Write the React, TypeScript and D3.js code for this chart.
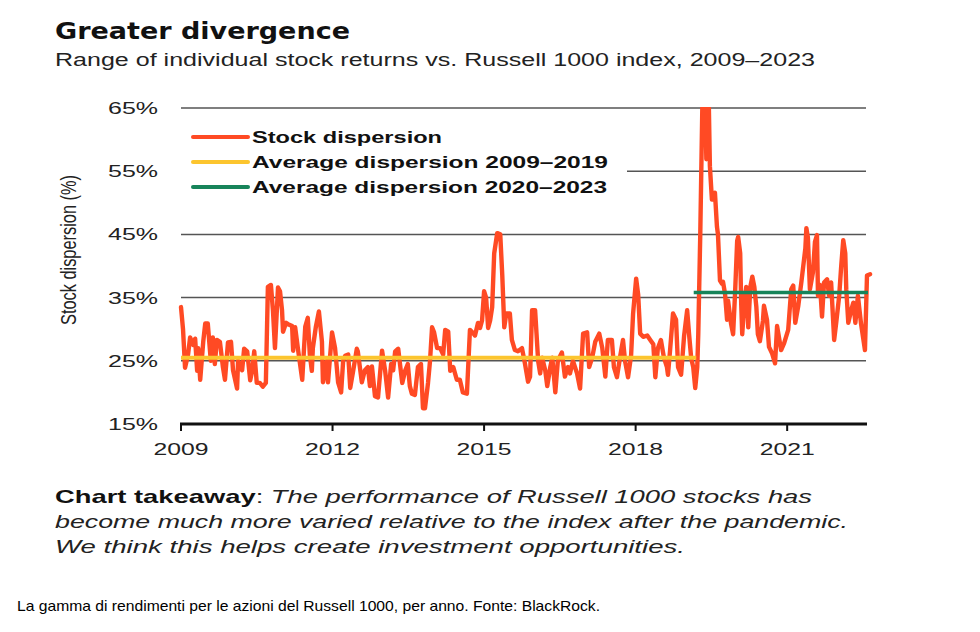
import * as d3 from 'd3';

// decimal year, stock dispersion (%)
const DISPERSION: [number, number][] = [
  [2009.00, 33.5], [2009.04, 30], [2009.08, 23.9], [2009.14, 26], [2009.18, 28.7], [2009.24, 27.5],
  [2009.28, 28.5], [2009.32, 23.4], [2009.34, 27], [2009.38, 22], [2009.44, 28], [2009.48, 30.9],
  [2009.53, 30.9], [2009.59, 25], [2009.63, 28.7], [2009.67, 24.5], [2009.71, 28.3], [2009.77, 28],
  [2009.83, 24], [2009.87, 22], [2009.93, 27.9], [2009.99, 28],
  [2010.03, 23.5], [2010.11, 20.6], [2010.13, 25], [2010.21, 23.5], [2010.25, 26.9], [2010.31, 26.5],
  [2010.37, 21.9], [2010.41, 23.5], [2010.45, 26.5], [2010.50, 21.5], [2010.56, 21.5], [2010.62, 20.9],
  [2010.68, 21.5], [2010.72, 36.7], [2010.78, 37], [2010.82, 33], [2010.86, 27], [2010.92, 36.6],
  [2010.96, 36],
  [2011.00, 33], [2011.02, 29.6], [2011.08, 31], [2011.12, 30.8], [2011.20, 30.5], [2011.22, 26.6],
  [2011.26, 30.3], [2011.32, 26.6], [2011.40, 22], [2011.46, 30.4], [2011.51, 31.8], [2011.55, 26],
  [2011.59, 23.4], [2011.61, 27], [2011.67, 30.4], [2011.73, 32.8], [2011.79, 28], [2011.81, 21.6],
  [2011.89, 25], [2011.91, 21.6], [2011.99, 29.5],
  [2012.05, 27], [2012.11, 21.6], [2012.17, 20], [2012.21, 25], [2012.25, 25.8], [2012.31, 26],
  [2012.35, 20.7], [2012.41, 23.5], [2012.48, 26.9], [2012.50, 26.5], [2012.58, 21.6], [2012.64, 23.5],
  [2012.70, 24], [2012.74, 21], [2012.78, 24.1], [2012.84, 19.4], [2012.90, 19.2], [2012.98, 26.6],
  [2013.04, 23.5], [2013.10, 19.2], [2013.16, 24.5], [2013.20, 23.5], [2013.24, 26.5], [2013.30, 26.9],
  [2013.36, 22.8], [2013.38, 21.5], [2013.44, 23.5], [2013.49, 24.5], [2013.53, 21], [2013.57, 19.8],
  [2013.63, 19.6], [2013.69, 24], [2013.75, 24.5], [2013.79, 17.5], [2013.83, 17.5], [2013.89, 21.5],
  [2013.93, 25], [2013.97, 30.3],
  [2014.01, 29.5], [2014.07, 27], [2014.13, 27], [2014.19, 26], [2014.23, 29.9], [2014.29, 29.6],
  [2014.33, 23.4], [2014.39, 24], [2014.46, 22], [2014.52, 22], [2014.58, 20], [2014.66, 19.8],
  [2014.72, 29.9], [2014.78, 29.4], [2014.82, 29], [2014.88, 31], [2014.92, 30.2], [2014.96, 31.4],
  [2015.00, 36], [2015.04, 35], [2015.08, 30.2], [2015.12, 31.4], [2015.16, 33.5], [2015.20, 42],
  [2015.26, 45.2], [2015.32, 45], [2015.36, 38.5], [2015.40, 30.3], [2015.44, 32.5], [2015.51, 32.5],
  [2015.55, 28.3], [2015.61, 26.7], [2015.67, 26.5], [2015.75, 27], [2015.81, 24.5], [2015.87, 21.7],
  [2015.91, 22.5], [2015.95, 33],
  [2016.01, 33], [2016.07, 25], [2016.11, 23], [2016.15, 25.5], [2016.21, 23.5], [2016.25, 21],
  [2016.31, 24], [2016.35, 25.5], [2016.41, 20], [2016.46, 25], [2016.54, 26.3], [2016.60, 22.5],
  [2016.66, 24], [2016.70, 23], [2016.76, 25], [2016.84, 23], [2016.90, 20.6], [2016.96, 29.3],
  [2017.04, 29.5], [2017.08, 24], [2017.14, 25.5], [2017.20, 28], [2017.28, 29.3], [2017.34, 27],
  [2017.40, 22.5], [2017.45, 28.3], [2017.53, 28.3], [2017.57, 24], [2017.63, 22.4], [2017.69, 25.5],
  [2017.75, 28.3], [2017.79, 25], [2017.85, 22.4], [2017.91, 25.8], [2017.95, 32.5],
  [2018.01, 38], [2018.05, 35.5], [2018.09, 29.3], [2018.15, 28.8], [2018.23, 29], [2018.29, 28.3],
  [2018.35, 27.6], [2018.39, 22.4], [2018.44, 27], [2018.50, 28.3], [2018.56, 25.5], [2018.62, 24],
  [2018.64, 22.8], [2018.68, 26.5], [2018.74, 32.5], [2018.80, 31.5], [2018.84, 24], [2018.90, 22.8],
  [2018.96, 29],
  [2019.02, 33], [2019.06, 29], [2019.10, 25.4], [2019.14, 24], [2019.18, 20.7], [2019.22, 24],
  [2019.24, 29.2], [2019.28, 45.2], [2019.32, 65], [2019.38, 65], [2019.40, 56.9], [2019.41, 65],
  [2019.45, 65], [2019.47, 55.8], [2019.51, 50.5], [2019.53, 51], [2019.57, 51.6], [2019.61, 46.2],
  [2019.63, 45], [2019.67, 37.7], [2019.71, 37.2], [2019.73, 37.5], [2019.77, 35.6], [2019.81, 31.5],
  [2019.83, 34.5], [2019.89, 30.8], [2019.93, 29.2], [2019.97, 36],
  [2020.01, 44], [2020.03, 44.6], [2020.07, 42], [2020.09, 34], [2020.11, 29.2], [2020.15, 34],
  [2020.19, 36.7], [2020.23, 30.3], [2020.27, 36.7], [2020.31, 38.3], [2020.35, 36.7], [2020.39, 33.5],
  [2020.42, 29.2], [2020.46, 28.1], [2020.52, 31.3], [2020.54, 33.7], [2020.60, 31.5], [2020.64, 27.2],
  [2020.70, 26.2], [2020.76, 24.6], [2020.80, 30.5], [2020.88, 26.7], [2020.94, 27.8],
  [2021.02, 29.9], [2021.08, 36.3], [2021.12, 36.9], [2021.16, 31], [2021.22, 33.7], [2021.28, 37.4],
  [2021.36, 42.8], [2021.38, 46], [2021.41, 44.5], [2021.45, 36.3], [2021.51, 39], [2021.55, 43.8],
  [2021.59, 44.9], [2021.61, 35.3], [2021.65, 37], [2021.69, 32], [2021.73, 37.4], [2021.79, 37.9],
  [2021.83, 35.3], [2021.87, 37.4], [2021.93, 28.3], [2021.97, 31],
  [2022.03, 35.3], [2022.07, 40], [2022.11, 44.1], [2022.15, 42], [2022.17, 36.3], [2022.21, 31],
  [2022.27, 33.1], [2022.31, 34.2], [2022.35, 31], [2022.40, 35.3], [2022.46, 31], [2022.54, 26.7],
  [2022.58, 38.5], [2022.64, 38.7],
];

const AVG_2009_2019: [number, number][] = [[2009, 25.5], [2019.2, 25.5]];
const AVG_2020_2023: [number, number][] = [[2019.15, 35.8], [2022.6, 35.8]];

const YEAR_TICKS = [2009, 2012, 2015, 2018, 2021];
const PCT_TICKS = [15, 25, 35, 45, 55, 65];

const RED = '#ff4a24';
const YELLOW = '#fcc52e';
const GREEN = '#17845a';

const LEGEND = [
  { label: 'Stock dispersion', color: RED, len: 190 },
  { label: 'Average dispersion 2009–2019', color: YELLOW, len: 356 },
  { label: 'Average dispersion 2020–2023', color: GREEN, len: 355 },
];

const TAKEAWAY_LINES = [
  'become much more varied relative to the index after the pandemic.',
  'We think this helps create investment opportunities.',
];

const SANS = "'Liberation Sans', Arial, sans-serif";

export default function App() {
  const x = d3.scaleLinear().domain([2009, 2022.6]).range([181, 868]);
  const y = d3.scaleLinear().domain([15, 65]).range([424, 108]);
  const line = d3
    .line<[number, number]>()
    .x((d) => x(d[0]))
    .y((d) => y(d[1]))
    .curve(d3.curveLinear);

  const gridRight = 866;

  return (
    <svg
      width={980}
      height={632}
      style={{ position: 'absolute', left: 0, top: 0, background: '#fff' }}
    >
      <defs>
        <clipPath id="plot">
          <rect x={170} y={y(65) - 1} width={720} height={y(15) - y(65) + 20} />
        </clipPath>
      </defs>

      {/* titles */}
      <text x={55} y={39} fontFamily="'DejaVu Sans', sans-serif" fontWeight="bold" fontSize={23}
        fill="#111" textLength={295} lengthAdjust="spacingAndGlyphs">
        Greater divergence
      </text>
      <text x={55} y={66} fontFamily={SANS} fontSize={17.5} fill="#222"
        textLength={760} lengthAdjust="spacingAndGlyphs">
        Range of individual stock returns vs. Russell 1000 index, 2009–2023
      </text>

      {/* gridlines */}
      {PCT_TICKS.filter((t) => t > 15).map((t) => (
        <line key={t} x1={x(2009)} x2={gridRight} y1={y(t)} y2={y(t)} stroke="#555" strokeWidth={1.5} />
      ))}

      {/* y tick labels */}
      {PCT_TICKS.map((t) => (
        <text key={t} x={158} y={y(t) + 6} textAnchor="end" fontFamily={SANS} fontSize={17}
          fill="#222" textLength={50} lengthAdjust="spacingAndGlyphs">
          {t}%
        </text>
      ))}

      <text
        transform={`translate(76, 250) scale(1.38, 1) rotate(-90)`}
        textAnchor="middle" fontFamily={SANS} fontSize={16} fill="#222"
        textLength={150} lengthAdjust="spacingAndGlyphs"
      >
        Stock dispersion (%)
      </text>

      {/* series */}
      <g clipPath="url(#plot)">
        <path d={line(DISPERSION) ?? ''} fill="none" stroke={RED} strokeWidth={4.4}
          strokeLinejoin="round" strokeLinecap="round" />
      </g>
      <path d={line(AVG_2009_2019) ?? ''} fill="none" stroke={YELLOW} strokeWidth={4} />
      <path d={line(AVG_2020_2023) ?? ''} fill="none" stroke={GREEN} strokeWidth={3.5} />

      {/* x axis */}
      <line x1={x(2009) - 1} x2={867} y1={y(15)} y2={y(15)} stroke="#111" strokeWidth={3} />
      {YEAR_TICKS.map((t) => (
        <g key={t}>
          <line x1={x(t)} x2={x(t)} y1={y(15)} y2={y(15) + 7} stroke="#111" strokeWidth={2} />
          <text x={x(t)} y={y(15) + 31} textAnchor="middle" fontFamily={SANS} fontSize={17}
            fill="#222" textLength={55} lengthAdjust="spacingAndGlyphs">
            {t}
          </text>
        </g>
      ))}

      {/* legend */}
      <rect x={x(2009)} y={122} width={446} height={76} fill="#fff" />
      {LEGEND.map((item, i) => {
        const ly = 137 + i * 25;
        return (
          <g key={item.label}>
            <line x1={193} x2={248} y1={ly} y2={ly} stroke={item.color} strokeWidth={4} strokeLinecap="round" />
            <text x={252} y={ly + 6} fontFamily={SANS} fontWeight="bold" fontSize={16.5} fill="#111"
              textLength={item.len} lengthAdjust="spacingAndGlyphs">
              {item.label}
            </text>
          </g>
        );
      })}

      {/* takeaway */}
      <text x={55} y={503} fontFamily={SANS} fontSize={19} fill="#222"
        textLength={757} lengthAdjust="spacingAndGlyphs">
        <tspan fontWeight="bold" fill="#111">Chart takeaway</tspan>
        <tspan>: </tspan>
        <tspan fontStyle="italic">The performance of Russell 1000 stocks has</tspan>
      </text>
      {TAKEAWAY_LINES.map((l, i) => (
        <text key={i} x={55} y={528 + i * 25} fontFamily={SANS} fontSize={19} fontStyle="italic"
          fill="#222" textLength={i === 0 ? 793 : 630} lengthAdjust="spacingAndGlyphs">
          {l}
        </text>
      ))}

      {/* caption */}
      <text x={17} y={611} fontFamily={SANS} fontSize={14.5} fill="#000"
        textLength={583} lengthAdjust="spacingAndGlyphs">
        La gamma di rendimenti per le azioni del Russell 1000, per anno. Fonte: BlackRock.
      </text>
    </svg>
  );
}
